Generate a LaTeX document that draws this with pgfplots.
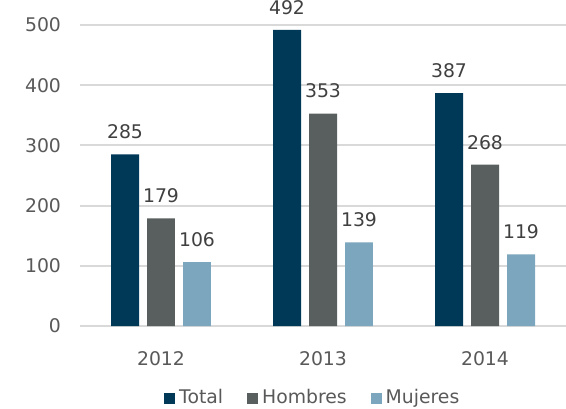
\documentclass[border=0pt]{standalone}
\usepackage{fontspec}
\setmainfont{DejaVu Sans}
\usepackage{pgfplots}
\pgfplotsset{compat=1.18}
\definecolor{cTotal}{HTML}{003857}
\definecolor{cHom}{HTML}{595F5E}
\definecolor{cMuj}{HTML}{7BA6BD}
\definecolor{cGrid}{HTML}{D9D9D9}
\definecolor{cTick}{HTML}{595959}
\definecolor{cLab}{HTML}{404040}
\begin{document}
\begin{tikzpicture}
\begin{axis}[
  at={(0,0)}, anchor=south west,
  scale only axis,
  width=243pt, height=150.5pt,
  xmin=-0.5, xmax=2.5, ymin=0, ymax=500,
  clip=false,
  ybar, bar width=0.1728,
  font=\fontsize{9.4pt}{11pt}\selectfont,
  /pgf/number format/assume math mode=true,
  xtick={0,1,2}, xticklabels={2012,2013,2014},
  ytick={0,100,200,300,400,500},
  ymajorgrids, grid style={cGrid, line width=1pt},
  axis line style={draw=none},
  tick style={draw=none},
  xticklabel style={text=cTick, yshift=-5pt},
  yticklabel style={text=cTick, xshift=-6pt},
  nodes near coords,
  every node near coord/.append style={text=cLab, anchor=south, inner sep=0pt, yshift=7.5pt},
  legend columns=3,
  legend style={at={(0.481,0)}, anchor=center, yshift=-36pt, draw=none, fill=none,
    text=cTick, nodes={inner sep=2pt},
    /tikz/every even column/.append style={column sep=10pt}},
  legend image code/.code={\path[#1] (0pt,-2.75pt) rectangle (5.5pt,2.75pt);},
]
\addplot[fill=cTotal, draw=none, bar shift=-0.2222] coordinates {(0,285) (1,492) (2,387)};
\addplot[fill=cHom, draw=none, bar shift=0] coordinates {(0,179) (1,353) (2,268)};
\addplot[fill=cMuj, draw=none, bar shift=0.2222] coordinates {(0,106) (1,139) (2,119)};
\legend{Total, Hombres, Mujeres}
\end{axis}
\pgfresetboundingbox
\path (-40pt,-41pt) rectangle (243pt,163pt);
\end{tikzpicture}
\end{document}
